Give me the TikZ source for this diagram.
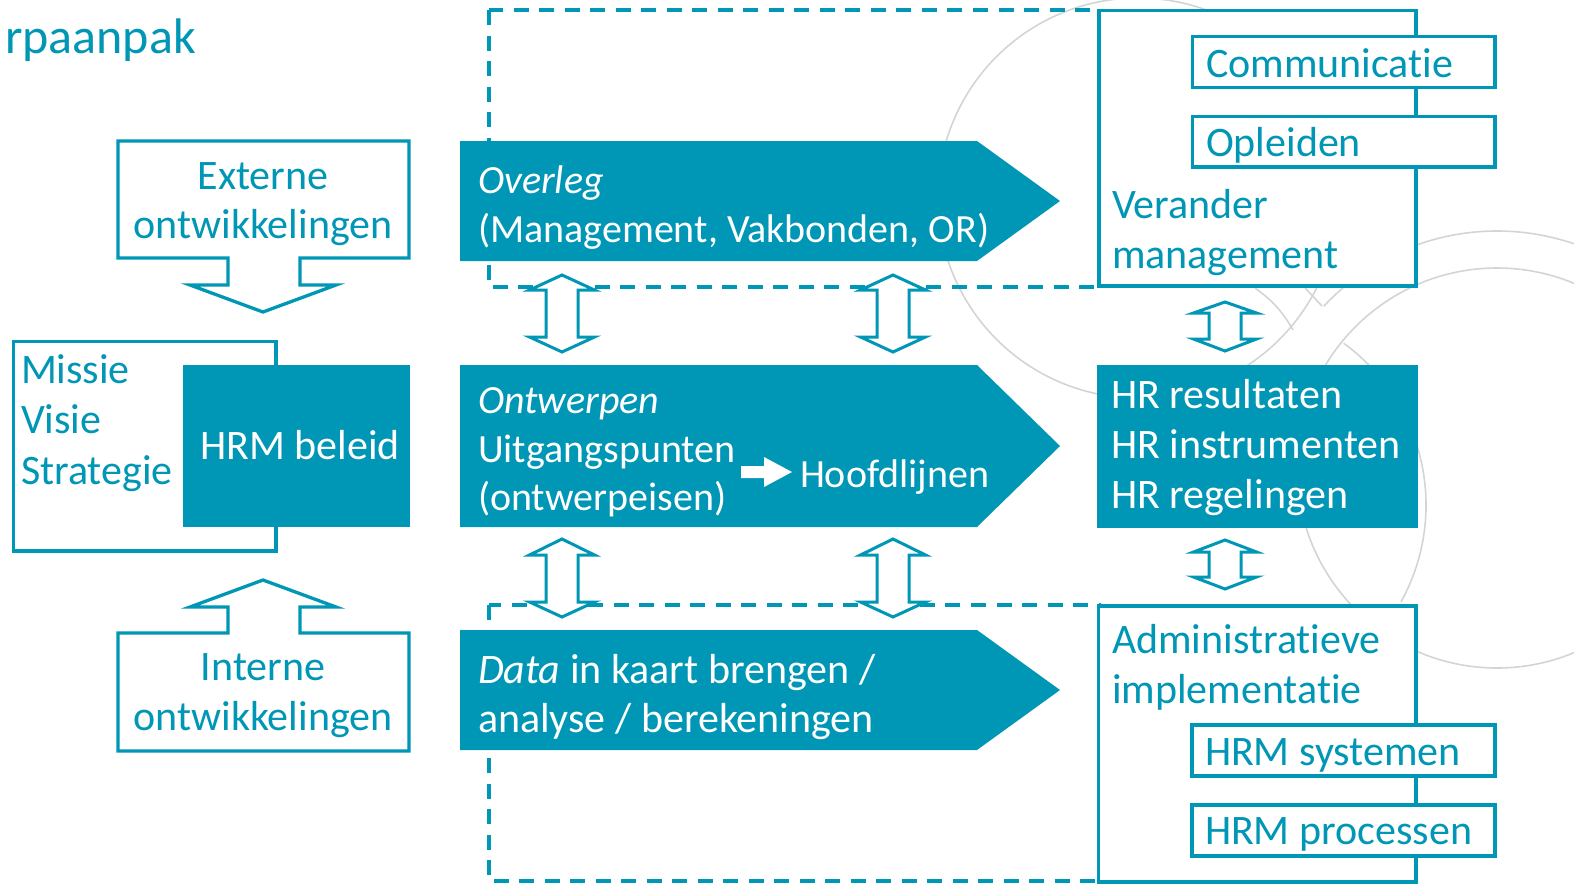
\documentclass[tikz,border=0pt]{standalone}
\usepackage{fontspec}
\setmainfont{Carlito}[Ligatures=NoCommon]
\definecolor{teal1}{RGB}{0,150,181}
\definecolor{ringgray}{RGB}{212,212,212}
% double arrow: name, x, tip, head base, shaft end, bottom tip, head half width
\newcommand\dblarr[7]{%
  \draw[dblarrow] (#2,#3) coordinate (#1) -- ({#2+#7},#4) -- ({#2+16},#4) -- ({#2+16},#5) -- ({#2+#7},#5) -- (#2,#6) -- ({#2-#7},#5) -- ({#2-16},#5) -- ({#2-16},#4) -- ({#2-#7},#4) -- cycle;}
\begin{document}
\begin{tikzpicture}[x=1bp,y=-1bp,
  txt/.style={inner sep=0pt, outer sep=0pt, font=\fontsize{40bp}{50bp}\selectfont, anchor=base west},
  btxt/.style={txt, font=\fontsize{42bp}{50bp}\selectfont},
  dtxt/.style={btxt, text=teal1},
  wtxt/.style={txt, text=white},
  bwtxt/.style={btxt, text=white},
  obox/.style={draw=teal1, line width=3.3bp, fill=white},
  fbox/.style={fill=teal1},
  dashline/.style={draw=teal1, line width=3.2bp, dash pattern=on 15bp off 10.5bp},
  dblarrow/.style={draw=teal1, line width=3bp, fill=white, line join=miter},
  ringline/.style={draw=ringgray, line width=1.6bp}
]
\useasboundingbox (0,0) rectangle (1574,885);

% background rings
\begin{scope}
\clip (0,0) rectangle (1574,885);
\draw[ringline] (1138,198) circle [radius=200];
\draw[ringline] (1497,468) circle [radius=200];
\draw[ringline] (1497,468) ++(-137:237) arc[start angle=-137, end angle=-10, radius=237];
\draw[ringline] (1226,505) ++(-54:200) arc[start angle=-54, end angle=29, radius=200];
\draw[ringline] (1255,288) to[bend left=12] (1293,330);
\draw[ringline] (1305,288) -- (1322,306);
\end{scope}

% title
\node[txt, text=teal1, font=\fontsize{50bp}{60bp}\selectfont] (title) at (5,53) {rpaanpak};

% dashed frames
\draw[dashline] (489,10) rectangle (1099,287);
\draw[dashline] (489,605) rectangle (1099,881);

% right column
\draw[obox] (1099,10.5) rectangle (1416,286);
\draw[obox] (1192.5,36.5) rectangle (1495,87.5);
\draw[obox] (1192.5,116.5) rectangle (1495,167);
\node[dtxt] (comm) at (1206,77) {Communicatie};
\node[dtxt] (opl) at (1206,156) {Opleiden};
\node[dtxt] (verander) at (1112,218) {Verander};
\node[dtxt] (mgmt) at (1112,268) {management};

\fill[fbox] (1097,365) rectangle (1418,528);
\node[bwtxt] (hr1) at (1111,408) {HR resultaten};
\node[bwtxt] (hr2) at (1111,458) {HR instrumenten};
\node[bwtxt] (hr3) at (1111,508) {HR regelingen};

\draw[obox] (1098.5,606) rectangle (1416,882);
\draw[obox] (1192,725) rectangle (1495,776);
\draw[obox] (1192,805) rectangle (1495,856);
\node[dtxt] (adm1) at (1112,653) {Administratieve};
\node[dtxt] (adm2) at (1112,703) {implementatie};
\node[dtxt] (hrmsys) at (1205,765) {HRM systemen};
\node[dtxt] (hrmproc) at (1205,844) {HRM processen};

% middle arrows
\fill[fbox] (460,141) -- (977,141) -- (1060,201) -- (977,261) -- (460,261) -- cycle;
\node[wtxt] (overleg) at (478,193) {\itshape Overleg};
\node[wtxt] (overleg2) at (478,242) {(Management, Vakbonden, OR)};

\fill[fbox] (460,365) -- (977,365) -- (1060,446) -- (977,527) -- (460,527) -- cycle;
\node[wtxt] (ontw) at (478,413) {\itshape Ontwerpen};
\node[wtxt] (uitg) at (478,462) {Uitgangspunten};
\node[wtxt] (eisen) at (478,510) {(ontwerpeisen)};
\node[wtxt] (hoofd) at (800,487) {Hoofdlijnen};
\fill[white] (741,466) -- (764,466) -- (764,457) -- (792,472) -- (764,487) -- (764,478) -- (741,478) -- cycle;

\fill[fbox] (460,630) -- (977,630) -- (1060,690) -- (977,750) -- (460,750) -- cycle;
\node[bwtxt] (data) at (478,683) {\textit{Data} in kaart brengen /};
\node[bwtxt] (data2) at (478,732) {analyse / berekeningen};

% double arrows
\dblarr{da1}{562}{275}{290}{337}{352}{32.5}
\dblarr{da2}{893}{275}{290}{337}{352}{32.5}
\dblarr{da3}{562}{539}{555}{602}{617}{32.5}
\dblarr{da4}{893}{539}{555}{602}{617}{32.5}
\dblarr{da5}{1225}{302}{313}{339}{351}{31.5}
\dblarr{da6}{1225}{540}{552}{577}{589}{31.5}

% left column
\draw[obox, line join=miter] (118,141) -- (409,141) -- (409,258) -- (300,258) -- (300,285) -- (336,285) -- (263,312) -- (190,285) -- (228,285) -- (228,258) -- (118,258) -- cycle;
\node[dtxt, anchor=base] (ext1) at (263,189) {Externe};
\node[dtxt, anchor=base] (ext2) at (263,238) {ontwikkelingen};

\draw[obox, line join=miter] (118,751) -- (409,751) -- (409,633) -- (300,633) -- (300,607) -- (336,607) -- (263,580) -- (190,607) -- (228,607) -- (228,633) -- (118,633) -- cycle;
\node[dtxt, anchor=base] (int1) at (263,680) {Interne};
\node[dtxt, anchor=base] (int2) at (263,730) {ontwikkelingen};

\draw[obox] (13.5,341.5) rectangle (276,551);
\node[dtxt] (missie) at (21,383) {Missie};
\node[dtxt] (visie) at (21,433) {Visie};
\node[dtxt] (strat) at (21,484) {Strategie};
\fill[fbox] (183,365) rectangle (410,527);
\node[bwtxt, anchor=base] (hrmb) at (300,459) {HRM beleid};
\end{tikzpicture}
\end{document}
